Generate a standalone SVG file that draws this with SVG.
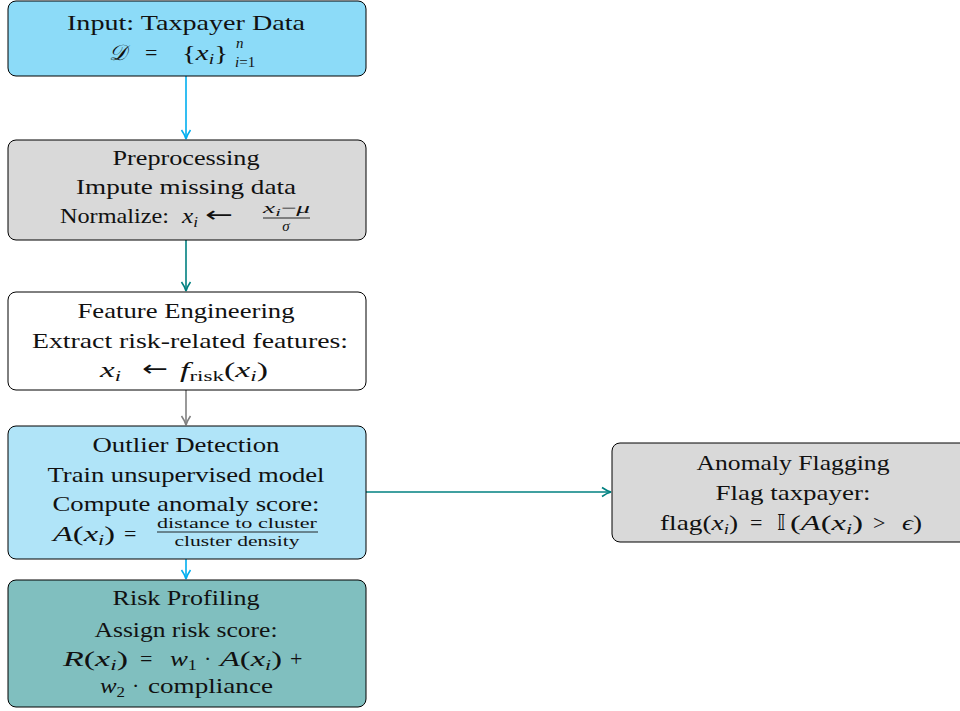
<svg xmlns="http://www.w3.org/2000/svg" width="960" height="711" viewBox="0 0 960 711">
  <style>
    .box { stroke: #000; stroke-width: 1; }
    text { font-family: "Liberation Serif", "DejaVu Serif", serif; font-size: 22px; fill: #111; }
    .c { text-anchor: middle; }
    .i { font-style: italic; }
    .s { font-size: 15px; }
    .f { font-size: 15px; }
    .sym { font-family: "DejaVu Sans", "Noto Sans", sans-serif; }
    .conn { fill: none; stroke-width: 1.6; }
  </style>
  <defs>
    <marker id="tipCyan" viewBox="0 0 12 12" refX="11" refY="6" markerWidth="12" markerHeight="12" markerUnits="userSpaceOnUse" orient="auto">
      <path d="M2,1.5 Q7,5 11,6 Q7,7 2,10.5" fill="none" stroke="#00aeef" stroke-width="1.6"/>
    </marker>
    <marker id="tipTeal" viewBox="0 0 12 12" refX="11" refY="6" markerWidth="12" markerHeight="12" markerUnits="userSpaceOnUse" orient="auto">
      <path d="M2,1.5 Q7,5 11,6 Q7,7 2,10.5" fill="none" stroke="#008080" stroke-width="1.6"/>
    </marker>
    <marker id="tipGray" viewBox="0 0 12 12" refX="11" refY="6" markerWidth="12" markerHeight="12" markerUnits="userSpaceOnUse" orient="auto">
      <path d="M2,1.5 Q7,5 11,6 Q7,7 2,10.5" fill="none" stroke="#808080" stroke-width="1.6"/>
    </marker>
  </defs>

  <!-- connectors -->
  <g id="connectors">
    <line class="conn" x1="186" y1="76" x2="186" y2="139" stroke="#00aeef" marker-end="url(#tipCyan)"/>
    <line class="conn" x1="186" y1="240" x2="186" y2="291" stroke="#008080" marker-end="url(#tipTeal)"/>
    <line class="conn" x1="186" y1="390" x2="186" y2="425" stroke="#808080" marker-end="url(#tipGray)"/>
    <line class="conn" x1="186" y1="559" x2="186" y2="579" stroke="#00aeef" marker-end="url(#tipCyan)"/>
    <line class="conn" x1="366" y1="492" x2="611" y2="492" stroke="#008080" marker-end="url(#tipTeal)"/>
  </g>

  <!-- input -->
  <g id="input">
    <rect class="box" x="8" y="1" width="358" height="75" rx="8" fill="#8cdbf8"/>
    <text class="c" x="186" y="30" textLength="238" lengthAdjust="spacingAndGlyphs">Input:  Taxpayer Data</text>
    <text class="sym" x="109" y="60" font-size="21" font-style="italic">𝒟</text>
    <text x="145" y="60">=</text>
    <text x="182" y="60" textLength="46" lengthAdjust="spacingAndGlyphs">{<tspan class="i">x</tspan><tspan class="i s" dy="4">i</tspan><tspan dy="-4">}</tspan></text>
    <text class="i s" x="236" y="48">n</text>
    <text class="s" x="235" y="67"><tspan class="i">i</tspan>=1</text>
  </g>

  <!-- preprocessing -->
  <g id="preprocessing">
    <rect class="box" x="8" y="140" width="358" height="100" rx="8" fill="#d9d9d9"/>
    <text class="c" x="186" y="165" textLength="147" lengthAdjust="spacingAndGlyphs">Preprocessing</text>
    <text class="c" x="186" y="194" textLength="220" lengthAdjust="spacingAndGlyphs">Impute missing data</text>
    <text x="60" y="223" textLength="109" lengthAdjust="spacingAndGlyphs">Normalize:</text>
    <text class="i" x="182" y="223" textLength="16" lengthAdjust="spacingAndGlyphs">x<tspan class="s" dy="4">i</tspan></text>
    <text x="205" y="222" class="sym" font-size="18" textLength="28" lengthAdjust="spacingAndGlyphs">←</text>
    <text class="f" x="263" y="213" textLength="47" lengthAdjust="spacingAndGlyphs"><tspan class="i">x</tspan><tspan class="i" font-size="11" dy="3">i</tspan><tspan dy="-3">−</tspan><tspan class="i">μ</tspan></text>
    <line x1="263" y1="218" x2="310" y2="218" stroke="#111" stroke-width="0.9"/>
    <text class="f c i" x="286" y="231">σ</text>
  </g>

  <!-- feature engineering -->
  <g id="features">
    <rect class="box" x="8" y="292" width="358" height="98" rx="8" fill="#ffffff"/>
    <text class="c" x="186" y="318" textLength="217" lengthAdjust="spacingAndGlyphs">Feature Engineering</text>
    <text class="c" x="190" y="348" textLength="316" lengthAdjust="spacingAndGlyphs">Extract risk-related features:</text>
    <text class="i" x="100" y="377" textLength="21" lengthAdjust="spacingAndGlyphs">x<tspan class="s" dy="4">i</tspan></text>
    <text x="142" y="376" class="sym" font-size="18" textLength="26" lengthAdjust="spacingAndGlyphs">←</text>
    <text x="180" y="377" textLength="88" lengthAdjust="spacingAndGlyphs"><tspan class="i">f</tspan><tspan class="s" dy="4">risk</tspan><tspan dy="-4">(</tspan><tspan class="i">x</tspan><tspan class="i s" dy="4">i</tspan><tspan dy="-4">)</tspan></text>
  </g>

  <!-- outlier detection -->
  <g id="outlier">
    <rect class="box" x="8" y="426" width="358" height="133" rx="8" fill="#b0e4f8"/>
    <text class="c" x="186" y="452" textLength="187" lengthAdjust="spacingAndGlyphs">Outlier Detection</text>
    <text class="c" x="186" y="482" textLength="277" lengthAdjust="spacingAndGlyphs">Train unsupervised model</text>
    <text class="c" x="186" y="511" textLength="267" lengthAdjust="spacingAndGlyphs">Compute anomaly score:</text>
    <text x="53" y="541" textLength="62" lengthAdjust="spacingAndGlyphs"><tspan class="i">A</tspan>(<tspan class="i">x</tspan><tspan class="i s" dy="4">i</tspan><tspan dy="-4">)</tspan></text>
    <text x="124" y="541">=</text>
    <text class="f c" x="237" y="528" textLength="160" lengthAdjust="spacingAndGlyphs">distance to cluster</text>
    <line x1="157" y1="532" x2="318" y2="532" stroke="#111" stroke-width="0.9"/>
    <text class="f c" x="237" y="546" textLength="125" lengthAdjust="spacingAndGlyphs">cluster density</text>
  </g>

  <!-- risk profiling -->
  <g id="risk">
    <rect class="box" x="8" y="580" width="358" height="127" rx="8" fill="#80bfbf"/>
    <text class="c" x="186" y="605" textLength="147" lengthAdjust="spacingAndGlyphs">Risk Profiling</text>
    <text class="c" x="186" y="637" textLength="183" lengthAdjust="spacingAndGlyphs">Assign risk score:</text>
    <text x="63" y="666" textLength="65" lengthAdjust="spacingAndGlyphs"><tspan class="i">R</tspan>(<tspan class="i">x</tspan><tspan class="i s" dy="4">i</tspan><tspan dy="-4">)</tspan></text>
    <text x="140" y="666">=</text>
    <text x="170" y="666" textLength="27" lengthAdjust="spacingAndGlyphs"><tspan class="i">w</tspan><tspan class="s" dy="4">1</tspan></text>
    <text x="204" y="666">·</text>
    <text x="220" y="666" textLength="62" lengthAdjust="spacingAndGlyphs"><tspan class="i">A</tspan>(<tspan class="i">x</tspan><tspan class="i s" dy="4">i</tspan><tspan dy="-4">)</tspan></text>
    <text x="290" y="666">+</text>
    <text x="100" y="693" textLength="25" lengthAdjust="spacingAndGlyphs"><tspan class="i">w</tspan><tspan class="s" dy="4">2</tspan></text>
    <text x="132" y="693">·</text>
    <text x="148" y="693" textLength="125" lengthAdjust="spacingAndGlyphs">compliance</text>
  </g>

  <!-- anomaly flagging -->
  <g id="flagging">
    <rect class="box" x="612" y="443" width="362" height="99" rx="8" fill="#d9d9d9"/>
    <text class="c" x="793" y="470" textLength="193" lengthAdjust="spacingAndGlyphs">Anomaly Flagging</text>
    <text class="c" x="793" y="500" textLength="155" lengthAdjust="spacingAndGlyphs">Flag taxpayer:</text>
    <text x="660" y="530" textLength="78" lengthAdjust="spacingAndGlyphs">flag(<tspan class="i">x</tspan><tspan class="i s" dy="4">i</tspan><tspan dy="-4">)</tspan></text>
    <text x="750" y="530">=</text>
    <text class="sym" x="777" y="530" font-size="20">𝕀</text>
    <text x="790" y="530" textLength="73" lengthAdjust="spacingAndGlyphs">(<tspan class="i">A</tspan>(<tspan class="i">x</tspan><tspan class="i s" dy="4">i</tspan><tspan dy="-4">)</tspan></text>
    <text x="873" y="530">&gt;</text>
    <text x="902" y="530" textLength="20" lengthAdjust="spacingAndGlyphs"><tspan class="i">ϵ</tspan>)</text>
  </g>
</svg>
